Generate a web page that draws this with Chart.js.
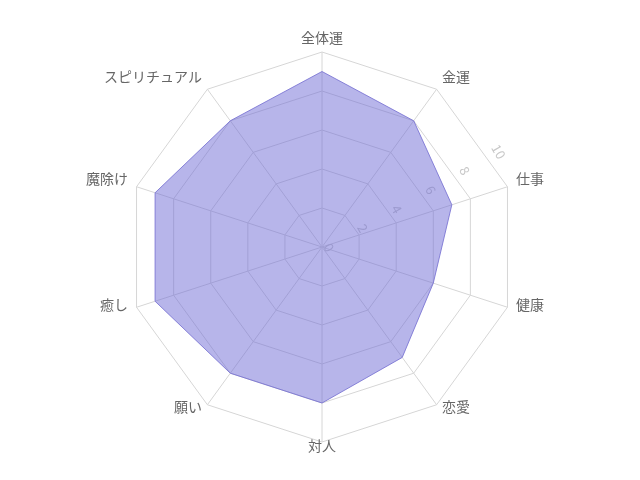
<!DOCTYPE html>
<html>
<head>
<meta charset="utf-8">
<script src="https://cdn.jsdelivr.net/npm/chart.js@4/dist/chart.umd.min.js"></script>
<style>
  html, body { margin: 0; padding: 0; background: #fff; }
  #wrap { width: 640px; height: 480px; }
</style>
</head>
<body>
<div id="wrap"><canvas id="myChart" width="640" height="480"></canvas></div>
<script>
const etiquetas = ["全体運", "金運", "仕事", "健康", "恋愛", "対人", "願い", "癒し", "魔除け", "スピリチュアル"];
const valores = [9, 8, 7, 6, 7, 8, 8, 9, 9, 8];
const marcas = [0, 2, 4, 6, 8, 10];

const fuente = "'Noto Sans CJK JP', 'Noto Sans', sans-serif";

// tick labels drawn rotated, like the reference
const ticksGirados = {
    id: "ticksGirados",
    beforeDatasetsDraw(chart) {
        const scale = chart.scales.r;
        const c = chart.ctx;
        const ang = 60.5 * Math.PI / 180;
        c.save();
        c.translate(scale.xCenter + 7, scale.yCenter + 0.5);
        c.rotate(ang);
        c.font = "13px " + fuente;
        c.fillStyle = "#c8c8c8";
        c.textAlign = "center";
        c.textBaseline = "middle";
        marcas.forEach(v => {
            const d = scale.getDistanceFromCenterForValue(v);
            c.fillText(String(v), 0, -d);
        });
        c.restore();
    }
};

// point labels placed around the outer ring
const etiquetasFuera = {
    id: "etiquetasFuera",
    afterDatasetsDraw(chart) {
        const scale = chart.scales.r;
        const c = chart.ctx;
        const r = scale.drawingArea;
        c.save();
        c.font = "14px " + fuente;
        c.fillStyle = "#666";
        c.textBaseline = "middle";
        etiquetas.forEach((txt, i) => {
            const p = scale.getPointPosition(i, r + 9);
            const dx = p.x - scale.xCenter;
            c.textAlign = Math.abs(dx) < 1 ? "center" : (dx > 0 ? "left" : "right");
            c.fillText(txt, p.x, p.y - 5);
        });
        c.restore();
    }
};

new Chart(document.getElementById("myChart"), {
    type: "radar",
    data: {
        labels: etiquetas,
        datasets: [{
            data: valores,
            backgroundColor: "rgba(112, 108, 214, 0.5)",
            borderColor: "rgba(120, 114, 210, 0.85)",
            borderWidth: 1,
            pointRadius: 0
        }]
    },
    options: {
        responsive: false,
        animation: false,
        layout: { padding: { top: 52, bottom: 38, left: 5, right: 0 } },
        plugins: {
            legend: { display: false },
            tooltip: { enabled: false }
        },
        scales: {
            r: {
                min: 0,
                max: 10,
                ticks: { stepSize: 2, display: false },
                grid: { color: "#d6d6d6" },
                angleLines: { color: "#d6d6d6" },
                pointLabels: { display: false }
            }
        }
    },
    plugins: [ticksGirados, etiquetasFuera]
});
</script>
</body>
</html>
